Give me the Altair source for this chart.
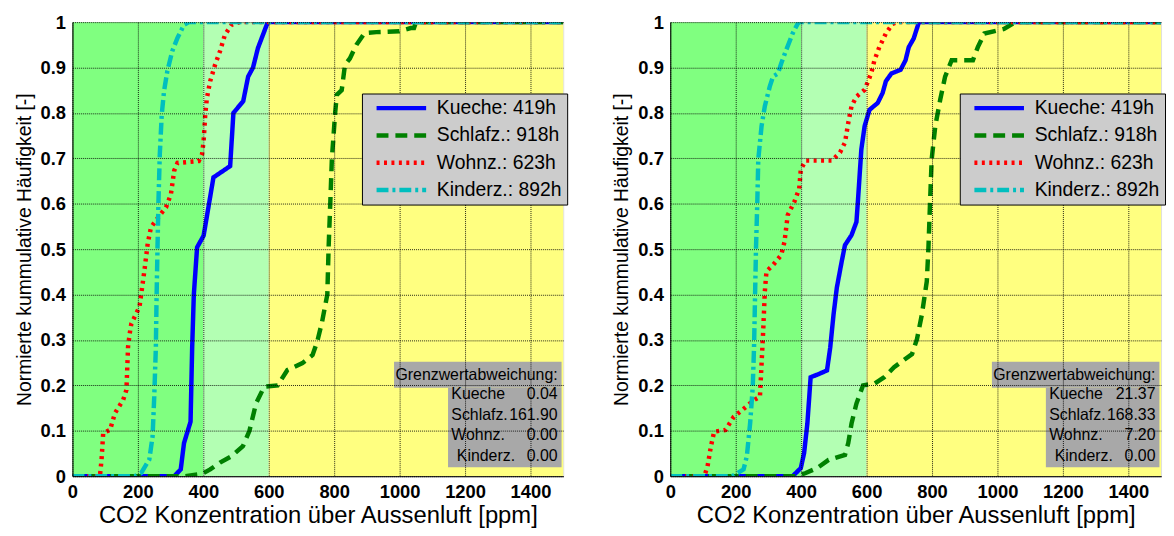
import altair as alt
import pandas as pd

F = "Liberation Sans, Arial, sans-serif"

SERIES = ["Kueche: 419h", "Schlafz.: 918h", "Wohnz.: 623h", "Kinderz.: 892h"]
COLORS = ["#0000FF", "#008000", "#FF0000", "#00BFBF"]
DASHES = [[1, 0], [12, 7], [3, 4.5], [12, 4, 3, 4]]

# ---- left panel ----
L_KUECHE_X = [0, 311, 331, 341, 361, 366, 371, 381, 401, 431, 482, 492, 522, 537, 552, 567, 597, 1500]
L_KUECHE_Y = [0, 0, 0.015, 0.073, 0.12, 0.285, 0.40, 0.504, 0.53, 0.658, 0.683, 0.80, 0.826, 0.88, 0.90, 0.943, 1.0, 1.0]
L_SCHLAFZ_X = [0, 344, 396, 421, 451, 486, 521, 541, 561, 586, 627, 657, 703, 734, 748, 763, 779, 783, 788, 793,
               803, 808, 823, 833, 848, 868, 893, 929, 999, 1034, 1044, 1050, 1500]
L_SCHLAFZ_Y = [0, 0, 0.005, 0.015, 0.03, 0.044, 0.066, 0.10, 0.16, 0.197, 0.20, 0.234, 0.249, 0.267, 0.296, 0.34,
               0.40, 0.504, 0.60, 0.70, 0.80, 0.84, 0.85, 0.906, 0.92, 0.95, 0.976, 0.978, 0.98, 0.987, 0.987, 1.0, 1.0]
L_WOHNZ_X = [0, 84, 89, 94, 115, 130, 155, 165, 170, 175, 180, 205, 210, 220, 230, 240, 266, 286, 301, 311,
             321, 386, 396, 401, 406, 411, 421, 436, 451, 466, 486, 511, 1500]
L_WOHNZ_Y = [0, 0, 0.037, 0.095, 0.102, 0.139, 0.168, 0.19, 0.285, 0.314, 0.336, 0.373, 0.40, 0.453, 0.512, 0.548,
             0.574, 0.592, 0.621, 0.673, 0.69, 0.694, 0.709, 0.738, 0.797, 0.833, 0.87, 0.906, 0.936, 0.972, 0.994, 1.0, 1.0]
L_KINDERZ_X = [0, 190, 210, 235, 245, 250, 255, 257, 260, 263, 267, 273, 280, 290, 305, 321, 341, 356, 1500]
L_KINDERZ_Y = [0, 0, 0.007, 0.037, 0.088, 0.175, 0.285, 0.387, 0.504, 0.607, 0.709, 0.797, 0.848, 0.892, 0.936,
               0.965, 0.994, 1.0, 1.0]

# ---- right panel ----
R_KUECHE_X = [0, 374, 399, 409, 419, 429, 454, 479, 489, 499, 509, 524, 534, 554, 569, 574, 584, 594, 609, 634,
              649, 659, 676, 704, 719, 729, 744, 760, 1500]
R_KUECHE_Y = [0, 0, 0.018, 0.051, 0.116, 0.218, 0.225, 0.233, 0.284, 0.356, 0.415, 0.473, 0.509, 0.531, 0.56, 0.611,
              0.72, 0.771, 0.807, 0.822, 0.844, 0.87, 0.887, 0.895, 0.916, 0.945, 0.964, 1.0, 1.0]
R_SCHLAFZ_X = [0, 384, 414, 449, 484, 534, 544, 554, 569, 589, 624, 654, 684, 739, 754, 769, 784, 789, 794, 799,
               810, 825, 840, 860, 925, 940, 960, 1020, 1055, 1500]
R_SCHLAFZ_Y = [0, 0, 0.007, 0.018, 0.036, 0.047, 0.073, 0.116, 0.16, 0.20, 0.204, 0.218, 0.24, 0.269, 0.302, 0.356,
               0.429, 0.502, 0.604, 0.698, 0.771, 0.829, 0.88, 0.916, 0.916, 0.945, 0.975, 0.985, 1.0, 1.0]
R_WOHNZ_X = [0, 104, 114, 124, 134, 169, 194, 219, 254, 274, 279, 284, 289, 294, 314, 339, 349, 359, 379, 394,
             399, 414, 494, 519, 534, 544, 554, 569, 594, 614, 624, 639, 659, 679, 694, 1500]
R_WOHNZ_Y = [0, 0, 0.022, 0.065, 0.098, 0.102, 0.131, 0.145, 0.167, 0.175, 0.247, 0.32, 0.407, 0.451, 0.465, 0.487,
             0.516, 0.575, 0.604, 0.633, 0.676, 0.695, 0.695, 0.713, 0.735, 0.778, 0.815, 0.836, 0.851, 0.887,
             0.916, 0.945, 0.975, 0.996, 1.0, 1.0]
R_KINDERZ_X = [0, 189, 224, 234, 244, 252, 256, 259, 262, 266, 269, 279, 289, 304, 314, 329, 339, 354, 374, 389, 394, 1500]
R_KINDERZ_Y = [0, 0, 0.015, 0.044, 0.116, 0.196, 0.284, 0.393, 0.502, 0.604, 0.698, 0.771, 0.815, 0.858, 0.88,
               0.887, 0.909, 0.938, 0.975, 0.996, 1.0, 1.0]

# ---- background zones ----
BAND_START = [0, 400, 600]
BAND_END = [400, 600, 1500]
BAND_COLORS = ["#80FF80", "#B3FFB3", "#FFFF80"]

# ---- deviation box ----
STAT_TITLE = "Grenzwertabweichung:"
STAT_NAMES = ["Kueche", "Schlafz.", "Wohnz.", "Kinderz."]
STAT_NAME_X = [1158, 1158, 1158, 1175]
L_STATS = ["0.04", "161.90", "0.00", "0.00"]
R_STATS = ["21.37", "168.33", "7.20", "0.00"]
STAT_ROW_Y = [0.18, 0.135, 0.09, 0.045]
STAT_TITLE_Y = 0.223
STAT_VALUE_X = 1483
BOX_X0 = [983, 1148]
BOX_X1 = [1495, 1495]
BOX_Y0 = [0.195, 0.02]
BOX_Y1 = [0.252, 0.195]

XTICKS = [0, 200, 400, 600, 800, 1000, 1200, 1400]
YTICKS = [0, 0.1, 0.2, 0.3, 0.4, 0.5, 0.6, 0.7, 0.8, 0.9, 1.0]

W, H = 495, 458

xscale = alt.Scale(domain=[0, 1500], nice=False, zero=False)
yscale = alt.Scale(domain=[0, 1], nice=False, zero=False)

common_axis = dict(grid=True, gridColor="black", gridDash=[1, 1], gridOpacity=0.85, gridWidth=1,
                   ticks=False, labelFont=F, labelFontSize=18.5, labelFontWeight="bold", labelColor="black",
                   labelFlush=False, labelOverlap=False, titleFont=F, titleFontWeight="normal",
                   titleColor="black", domain=True, domainColor="black", zindex=1)
xaxis = alt.Axis(values=XTICKS, format="d", title="CO2 Konzentration über Aussenluft [ppm]", titleFontSize=24,
                 labelPadding=6, titlePadding=3, **common_axis)
yaxis = alt.Axis(values=YTICKS, format=".1~f", title="Normierte kummulative Häufigkeit [-]", titleFontSize=19.5,
                 labelPadding=7, titlePadding=6, **common_axis)

legend = alt.Legend(orient="none", legendX=292, legendY=72, title=None, fillColor="#CCCCCC",
                    strokeColor="black", padding=5, labelFont=F, labelFontSize=19.5, labelColor="black",
                    symbolType="M0,0H10", symbolSize=100, symbolStrokeWidth=4.5, labelOffset=51,
                    rowPadding=6.5, labelLimit=400, zindex=2)


def panel(xs_list, ys_list, stats):
    rows = []
    for s, xs, ys in zip(SERIES, xs_list, ys_list):
        for i, (x, y) in enumerate(zip(xs, ys)):
            rows.append({"series": s, "x": x, "y": y, "i": i})
    lines_df = pd.DataFrame(rows)
    bands_df = pd.DataFrame({"x": BAND_START, "x2": BAND_END, "y": [0] * 3, "y2": [1] * 3, "c": BAND_COLORS})
    box_df = pd.DataFrame({"x": BOX_X0, "x2": BOX_X1, "y": BOX_Y0, "y2": BOX_Y1})
    names_df = pd.DataFrame({"x": STAT_NAME_X, "y": STAT_ROW_Y, "t": STAT_NAMES})
    vals_df = pd.DataFrame({"x": [STAT_VALUE_X] * 5, "y": [STAT_TITLE_Y] + STAT_ROW_Y, "t": [STAT_TITLE] + stats})

    X = alt.X("x:Q", scale=xscale, axis=xaxis)
    Y = alt.Y("y:Q", scale=yscale, axis=yaxis)

    bands = alt.Chart(bands_df).mark_rect().encode(
        x=X, x2="x2:Q", y=Y, y2="y2:Q", fill=alt.Fill("c:N", scale=None))
    box = alt.Chart(box_df).mark_rect(color="#A8A8A8").encode(x=X, x2="x2:Q", y=Y, y2="y2:Q")
    lines = alt.Chart(lines_df).mark_line(strokeWidth=4.5, clip=True).encode(
        x=X, y=Y,
        color=alt.Color("series:N", scale=alt.Scale(domain=SERIES, range=COLORS), legend=legend),
        strokeDash=alt.StrokeDash("series:N", scale=alt.Scale(domain=SERIES, range=DASHES), legend=legend),
        order="i:Q")
    names = alt.Chart(names_df).mark_text(align="left", baseline="middle", font=F, fontSize=16,
                                          color="black").encode(x=X, y=Y, text="t:N")
    vals = alt.Chart(vals_df).mark_text(align="right", baseline="middle", font=F, fontSize=16,
                                        color="black").encode(x=X, y=Y, text="t:N")
    return alt.layer(bands, box, lines, names, vals).properties(width=W, height=H)


left = panel([L_KUECHE_X, L_SCHLAFZ_X, L_WOHNZ_X, L_KINDERZ_X],
             [L_KUECHE_Y, L_SCHLAFZ_Y, L_WOHNZ_Y, L_KINDERZ_Y], L_STATS)
right = panel([R_KUECHE_X, R_SCHLAFZ_X, R_WOHNZ_X, R_KINDERZ_X],
              [R_KUECHE_Y, R_SCHLAFZ_Y, R_WOHNZ_Y, R_KINDERZ_Y], R_STATS)

chart = alt.hconcat(left, right, spacing=43).resolve_legend(
    color="independent", strokeDash="independent"
).properties(
    padding={"left": 5, "top": 2, "right": 0, "bottom": 0}
).configure_view(stroke="black", strokeWidth=1).configure(background="white")

chart.save("out.html", embed_options={"renderer": "svg", "actions": False})
